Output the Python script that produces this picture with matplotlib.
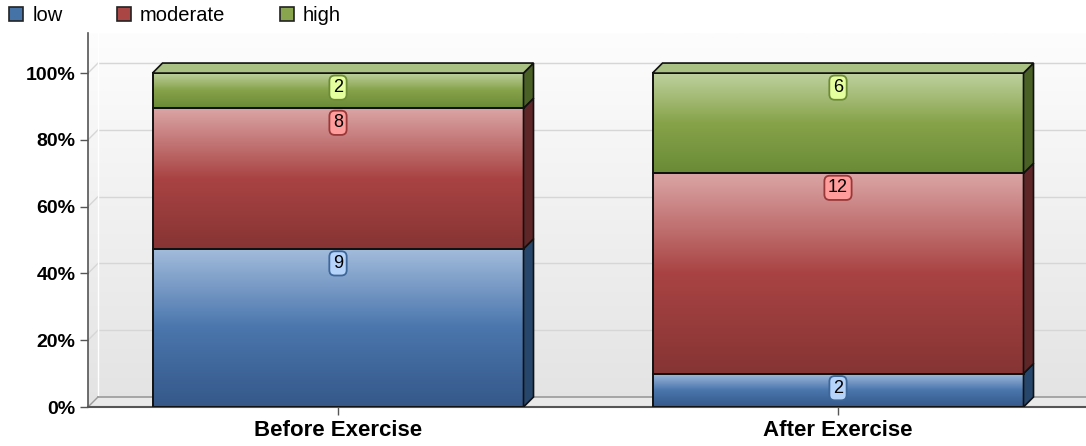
import numpy as np
import matplotlib
matplotlib.use('Agg')
import matplotlib.pyplot as plt
from matplotlib.colors import LinearSegmentedColormap
from matplotlib.patches import Rectangle, Polygon, Patch

plt.rcParams['font.family'] = ['Liberation Sans', 'DejaVu Sans']

categories = ['Before Exercise', 'After Exercise']
series_names = ['low', 'moderate', 'high']
low = [9, 2]
moderate = [8, 12]
high = [2, 6]
yticks = [0, 0.2, 0.4, 0.6, 0.8, 1.0]
ytick_labels = ['0%', '20%', '40%', '60%', '80%', '100%']

# gradient stops (top, middle, bottom), side face, label fill, label edge, legend colour
styles = {
    'low': (['#a3bcdc', '#4a76ad', '#355889'], '#27466c', '#b6d4fa', '#3d6699', '#4572a7'),
    'moderate': (['#dba5a5', '#a94343', '#863434'], '#5e2626', '#ff9c9c', '#993838', '#aa4643'),
    'high': (['#bfd2a0', '#87a34a', '#6a8a36'], '#4a6126', '#e6ff9e', '#6d8c38', '#89a54e'),
}
top_face = '#a9c183'

counts = np.array([low, moderate, high], dtype=float)
frac = counts / counts.sum(axis=0)

dx, dy = 0.02, 0.03
width = 0.742
xmax = 1.496
ytop = 1.12
x = np.arange(len(categories))

fig = plt.figure(figsize=(10.86, 4.46), dpi=100)
ax = fig.add_axes([88 / 1086, 39 / 446, 998 / 1086, 374 / 446])

# back wall
wall = LinearSegmentedColormap.from_list('wall', ['#fdfdfd', '#e3e3e3'])
ax.imshow(np.linspace(0, 1, 256).reshape(-1, 1), cmap=wall, aspect='auto',
          extent=(-0.5, xmax, 0, ytop), origin='upper', zorder=0)
for v in yticks[1:]:
    ax.plot([-0.5 + dx, xmax], [v + dy, v + dy], color='#d6d6d6', lw=1, zorder=0.5)
    ax.plot([-0.5, -0.5 + dx], [v, v + dy], color='#d6d6d6', lw=1, zorder=0.5)
ax.plot([-0.5 + dx, -0.5 + dx], [dy, ytop], color='white', lw=1, zorder=0.6)

# floor
ax.add_patch(Polygon([(-0.5, 0), (xmax, 0), (xmax, dy), (-0.5 + dx, dy)],
                     facecolor='#e9e9e9', edgecolor='none', zorder=1))
ax.plot([-0.5 + dx, xmax], [dy, dy], color='#9a9a9a', lw=1.2, zorder=1.1)
ax.plot([-0.5, -0.5 + dx], [0, dy], color='#9a9a9a', lw=1, zorder=1.1)

bottom = np.zeros(len(categories))
for name, f in zip(series_names, frac):
    stops, side, lab_fc, lab_ec, _ = styles[name]
    cmap = LinearSegmentedColormap.from_list(name, stops)
    for i in range(len(categories)):
        l, r = x[i] - width / 2, x[i] + width / 2
        b, t = bottom[i], bottom[i] + f[i]
        ax.imshow(np.linspace(0, 1, 256).reshape(-1, 1), cmap=cmap, aspect='auto',
                  extent=(l, r, b, t), origin='upper', zorder=2)
        ax.add_patch(Rectangle((l, b), width, f[i], facecolor='none',
                               edgecolor='#111111', lw=1.4, zorder=3))
        ax.add_patch(Polygon([(r, b), (r + dx, b + dy), (r + dx, t + dy), (r, t)],
                             facecolor=side, edgecolor='#111111', lw=1.2, zorder=3))
        ax.annotate('%d' % counts[series_names.index(name), i], (x[i], t),
                    xytext=(0, -10.5), textcoords='offset points',
                    ha='center', va='center', fontsize=13, zorder=5,
                    bbox=dict(boxstyle='round,pad=0.2,rounding_size=0.3',
                              fc=lab_fc, ec=lab_ec, lw=1.3))
    bottom += f

# top face of the stacks
for i in range(len(categories)):
    l, r = x[i] - width / 2, x[i] + width / 2
    t = bottom[i]
    ax.add_patch(Polygon([(l, t), (l + dx, t + dy), (r + dx, t + dy), (r, t)],
                         facecolor=top_face, edgecolor='#111111', lw=1.2, zorder=3))

ax.set_xlim(-0.5, xmax)
ax.set_ylim(0, ytop)
ax.set_xticks(x)
ax.set_xticklabels(categories, fontsize=16, fontweight='bold')
ax.set_yticks(yticks)
ax.set_yticklabels(ytick_labels, fontsize=14, fontweight='bold')
ax.tick_params(axis='both', length=6, width=1, color='#555555', pad=3)
for s in ['top', 'right']:
    ax.spines[s].set_visible(False)
ax.spines['left'].set_color('#555555')
ax.spines['bottom'].set_color('#555555')
ax.spines['left'].set_linewidth(1.2)
ax.spines['bottom'].set_linewidth(1.5)

handles = [Patch(facecolor=styles[n][4], edgecolor='#222222', lw=1.2) for n in series_names]
fig.legend(handles, series_names, loc='upper left', bbox_to_anchor=(9 / 1086, 1 - 6 / 446),
           ncol=3, frameon=False, fontsize=14.5, handlelength=0.7, handleheight=0.7,
           handletextpad=0.45, columnspacing=2.7, borderpad=0, borderaxespad=0)

fig.savefig('out.png', dpi=100)
